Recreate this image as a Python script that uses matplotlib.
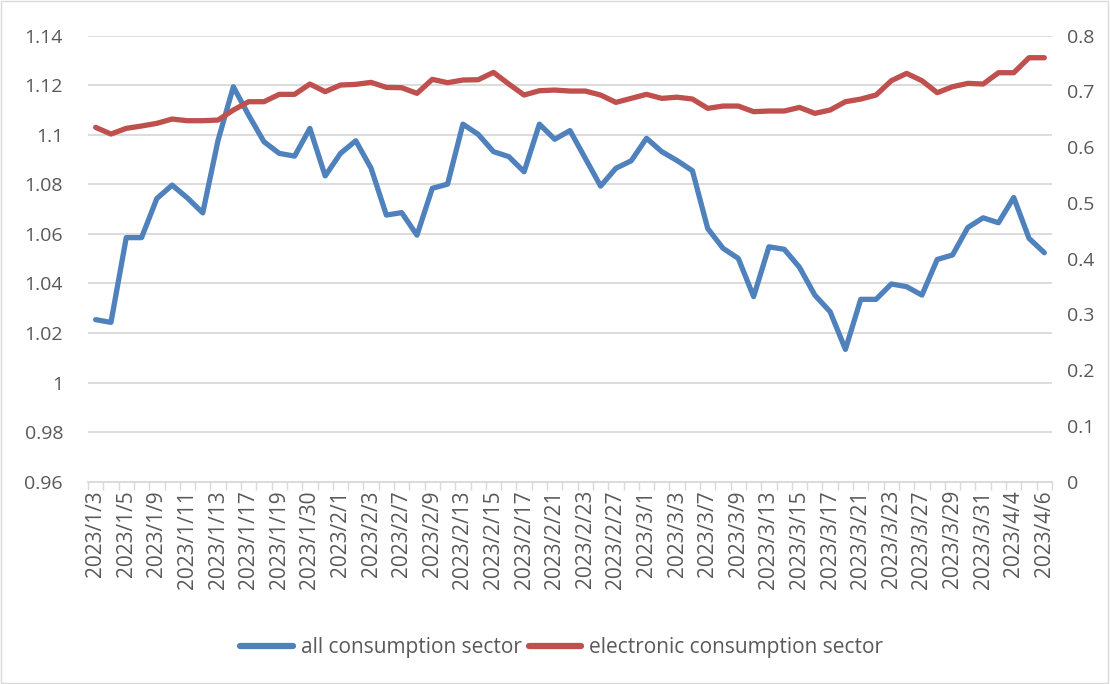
import matplotlib
matplotlib.use("Agg")
import matplotlib.pyplot as plt
from matplotlib.lines import Line2D
from matplotlib.patches import Rectangle

dates = ["2023/1/3", "2023/1/4", "2023/1/5", "2023/1/6", "2023/1/9", "2023/1/10", "2023/1/11",
         "2023/1/12", "2023/1/13", "2023/1/16", "2023/1/17", "2023/1/18", "2023/1/19", "2023/1/20",
         "2023/1/30", "2023/1/31", "2023/2/1", "2023/2/2", "2023/2/3", "2023/2/6", "2023/2/7",
         "2023/2/8", "2023/2/9", "2023/2/10", "2023/2/13", "2023/2/14", "2023/2/15", "2023/2/16",
         "2023/2/17", "2023/2/20", "2023/2/21", "2023/2/22", "2023/2/23", "2023/2/24", "2023/2/27",
         "2023/2/28", "2023/3/1", "2023/3/2", "2023/3/3", "2023/3/6", "2023/3/7", "2023/3/8",
         "2023/3/9", "2023/3/10", "2023/3/13", "2023/3/14", "2023/3/15", "2023/3/16", "2023/3/17",
         "2023/3/20", "2023/3/21", "2023/3/22", "2023/3/23", "2023/3/24", "2023/3/27", "2023/3/28",
         "2023/3/29", "2023/3/30", "2023/3/31", "2023/4/3", "2023/4/4", "2023/4/5", "2023/4/6"]

all_consumption = [1.0254, 1.0243, 1.0585, 1.0585, 1.0743, 1.0797, 1.0745, 1.0685, 1.0978, 1.1194,
                   1.1079, 1.0972, 1.0925, 1.0914, 1.1026, 1.0834, 1.0925, 1.0976, 1.0865, 1.0676,
                   1.0686, 1.0595, 1.0784, 1.0801, 1.1043, 1.1002, 1.0932, 1.0912, 1.0851, 1.1043,
                   1.0982, 1.1017, 1.0905, 1.0793, 1.0865, 1.0895, 1.0986, 1.0932, 1.0896, 1.0855,
                   1.0622, 1.0542, 1.0501, 1.0347, 1.0548, 1.0538, 1.0465, 1.0353, 1.0286, 1.0134,
                   1.0336, 1.0336, 1.0398, 1.0387, 1.0353, 1.0497, 1.0515, 1.0626, 1.0665, 1.0645,
                   1.0747, 1.0582, 1.0524]

electronic_consumption = [0.6356, 0.6236, 0.6338, 0.6380, 0.6428, 0.6505, 0.6475, 0.6475, 0.6487, 0.6667,
                          0.6816, 0.6816, 0.6948, 0.6948, 0.7133, 0.6996, 0.7115, 0.7127, 0.7163, 0.7073,
                          0.7067, 0.6966, 0.7217, 0.7157, 0.7205, 0.7210, 0.7342, 0.7133, 0.6936, 0.7013,
                          0.7025, 0.7007, 0.7007, 0.6936, 0.6804, 0.6876, 0.6948, 0.6876, 0.6897, 0.6864,
                          0.6697, 0.6738, 0.6738, 0.6637, 0.6649, 0.6649, 0.6714, 0.6607, 0.6667, 0.6816,
                          0.6863, 0.6936, 0.7193, 0.7324, 0.7193, 0.6978, 0.7085, 0.7145, 0.7133, 0.7336,
                          0.7336, 0.7605, 0.7605]

left_ticks = [0.96, 0.98, 1.0, 1.02, 1.04, 1.06, 1.08, 1.1, 1.12, 1.14]
left_labels = ["0.96", "0.98", "1", "1.02", "1.04", "1.06", "1.08", "1.1", "1.12", "1.14"]
right_ticks = [0, 0.1, 0.2, 0.3, 0.4, 0.5, 0.6, 0.7, 0.8]
right_labels = ["0", "0.1", "0.2", "0.3", "0.4", "0.5", "0.6", "0.7", "0.8"]
series_names = ["all consumption sector", "electronic consumption sector"]

BLUE = "#4F81BD"
RED = "#C0504D"
GRID = "#D9D9D9"
TXT = "#595959"
FONT = ["Open Sans", "DejaVu Sans"]
plt.rcParams["font.family"] = FONT

fig = plt.figure(figsize=(11.1, 6.84), dpi=100)
fig.patches.append(Rectangle((0.001, 0.001), 0.997, 0.997, transform=fig.transFigure,
                             fill=False, edgecolor="#D9D9D9", linewidth=1.0))

ax = fig.add_axes([88 / 1110, (684 - 481.7) / 684, 964 / 1110, 446 / 684])
ax2 = ax.twinx()

n = len(dates)
x = list(range(n))

ax.plot(x, all_consumption, color=BLUE, linewidth=3.8, solid_joinstyle="round",
        solid_capstyle="round", zorder=3)
ax2.plot(x, electronic_consumption, color=RED, linewidth=3.8, solid_joinstyle="round",
         solid_capstyle="round", zorder=3)

ax.set_xlim(-0.5, n - 0.5)
ax.set_ylim(0.96, 1.14)
ax2.set_ylim(0, 0.8)

ax.set_yticks(left_ticks)
ax.set_yticklabels(left_labels)
ax2.set_yticks(right_ticks)
ax2.set_yticklabels(right_labels)

ax.grid(axis="y", color=GRID, linewidth=1.3)
ax.set_axisbelow(True)

# x ticks: marks at category boundaries, labels every other category
ax.set_xticks([i - 0.5 for i in range(n + 1)])
ax.set_xticklabels([])
ax.tick_params(axis="x", which="major", length=6, width=1.0, color=GRID, direction="out")
label_pos = list(range(0, n, 2))
ax.set_xticks(label_pos, minor=True)
ax.set_xticklabels([dates[i] for i in label_pos], minor=True, rotation=90,
                   fontsize=15, color=TXT)
ax.tick_params(axis="x", which="minor", length=0, pad=6)

ax.tick_params(axis="y", length=0, labelsize=14, labelcolor=TXT, pad=18)
ax2.tick_params(axis="y", length=0, labelsize=14, labelcolor=TXT, pad=11)

for a in (ax, ax2):
    for s in ("left", "right", "top", "bottom"):
        a.spines[s].set_visible(False)
ax.spines["bottom"].set_visible(True)
ax.spines["bottom"].set_color(GRID)
ax.spines["bottom"].set_linewidth(1.3)

handles = [Line2D([0], [0], color=BLUE, linewidth=4.5, solid_capstyle="round"),
           Line2D([0], [0], color=RED, linewidth=4.5, solid_capstyle="round")]
fig.legend(handles, series_names, loc="center", bbox_to_anchor=(562 / 1110, 1 - 648 / 684),
           ncol=2, frameon=False, fontsize=15, labelcolor=TXT, handlelength=2.5,
           handletextpad=0.4, columnspacing=0.35)

fig.savefig("out.png", dpi=100)
